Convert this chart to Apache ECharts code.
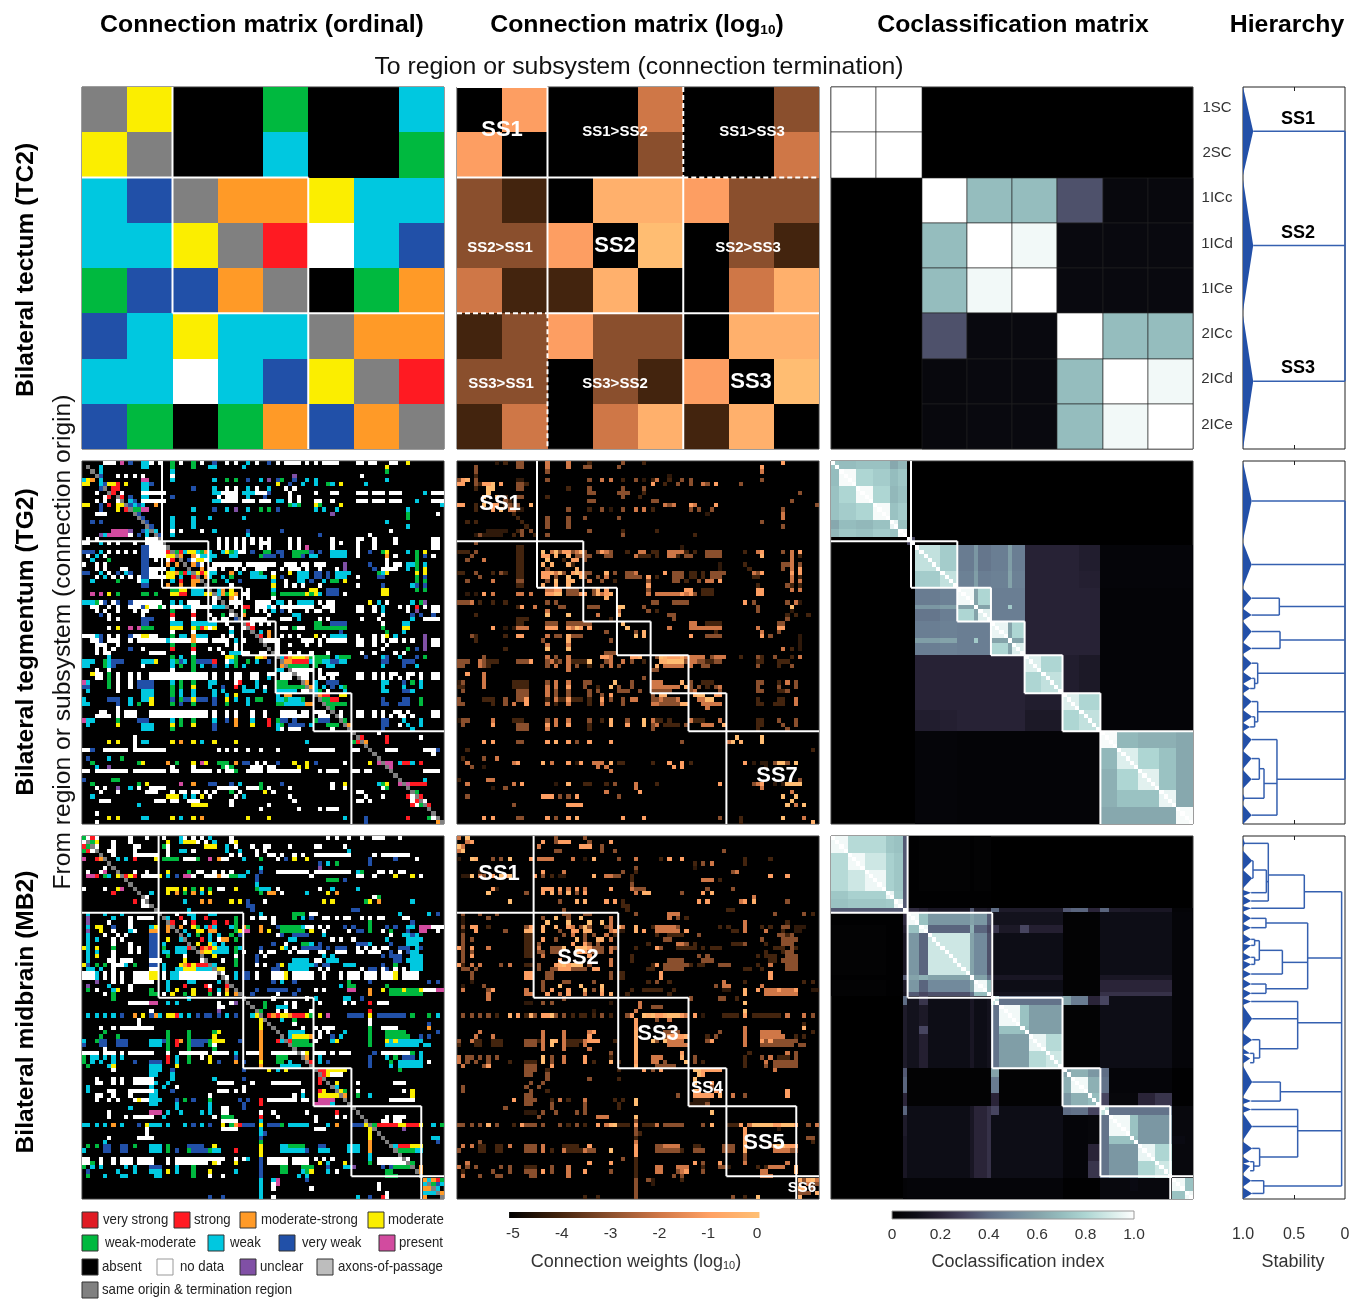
<!DOCTYPE html>
<html><head><meta charset="utf-8">
<script src="https://cdn.jsdelivr.net/npm/echarts@6/dist/echarts.min.js"></script>
<style>html,body{margin:0;padding:0;background:#fff}#c{width:1360px;height:1299px}</style>
</head><body><div id="c"></div>
<script>
// ---------- categories ----------
const tc2Regions = ['1SC','2SC','1ICc','1ICd','1ICe','2ICc','2ICd','2ICe'];
const ordinalCodes  = ['V','R','O','Y','G','C','B','P','W','U','X','A','K'];
const ordinalLabels = ['very strong','strong','moderate-strong','moderate','weak-moderate','weak','very weak','present','no data','unclear','axons-of-passage','same origin & termination region','absent'];
const ordinalColors = ['#e01b24','#ff1a22','#ff9a27','#fbee00','#00b93f','#00c8e0','#2150a8','#d24b9f','#ffffff','#8050a5','#bdbdbd','#808080','#000000'];
const logWeights = {V:-0.05,R:-0.1,O:-0.5,Y:-1.05,G:-2,C:-3,B:-4,P:-4.3,U:-4.3};
const logTicks = [-5,-4,-3,-2,-1,0];
const logColors = ['#000000','#43240e','#8a4f2d','#cf7747','#ffa063','#ffc074'];
const coTicks = [0,0.2,0.4,0.6,0.8,1];
const coColors = ['#000000','#0d0d16','#2a2438','#474560','#5f6d85','#728a9c','#84a3aa','#95bdbe','#aed6d3','#d5ebe8','#ffffff'];

// ---------- ordinal matrices, read row by row: "col[-col]Code" ----------
const tc2Rows = ['0A 1Y 4G 7C','0Y 1A 4C 7G','0C 1B 2A 3-4O 5Y 6-7C','0-1C 2Y 3A 4R 5W 6C 7B','0G 1-2B 3O 4A 6G 7O','0B 1C 2Y 3-4C 5A 6-7O','0-1C 2W 3C 4B 5Y 6A 7R','0B 1G 3G 4O 5B 6O 7A'];
const tg2Rows = [
"5-7W 9P 11B 14-15C 16W 18W 21G 23W 26G 28W 31B 34W 36W 39C 41W 44B 46W 48-51W 53W 55W 57-60W 65-66W 68-69W 73-74W 77Y",
"1A 4C 14-15C 21G 26G 30C 31C 38C 72Y",
"2A 4C 21C 72G",
"3A 4B 8W 10W 12W 14W 21W 50U 66W",
"0C 1Y 2O 4C 14-15P 21C 31C 34G 36G 39B 42C 44U 46B 47G 50B 53C 55C 72C",
"0-1Y 4C 5B 6-7Y 8R 10Y 14-15C 16B 46Y 49B 52C 55C 58G 59C 61Y 67C",
"4B 5A 7-8R 14-15C 26B 31C 34W 36W 39C 41W 44C 48W 50W",
"3W 6A 7R 9W 14-15W 16-19W 31-32C 33-36W 38-40C 41-43W 44B 49W 55W 59-60W 65-67W 69-71W 73-75W 81C 83-85W",
"5W 6R 8A 9R 11B 14-15C 21B 32W 34-36W 39C 43B 49W 51W",
"3W 5W 8W 9A 11C 12B 14-15W 16-19W 31-32C 33-36W 38-40W 42-44W 46-47C 49W 51W 55-56W 59W 65-67W 69-71W 73-75W 79C 83-85W",
"0-1Y 4B 6R 8-9Y 10A 11B 12C 13B 14C 17O 49G 50C 51G 55Y 56G 61Y 85C",
"4B 8Y 10R 11A 12-13G 14-15P 26C 31B 34C 36U 39C 42G 44G 46B 55C 57C 60C 77C",
"3-5W 12A 13B 59U 77G 84W",
"13A 14B 21C 26C 30C 38C 77G",
"2B 4B 14A 15B 21C 26C 72C",
"15A 16B 21C 26C 77C",
"7-10P 11U 14B 15C 16A 17C 21W 23W 28W 31C 39B 47B 73W",
"4U 5C 6-10P 11W 13B 15C 17A 18B 21C 39C 56B 68W",
"1W 3W 15-17W 18A 32W 34W 36W 38W 40W 42W 44W 49W 51W 59W 65-66W 69W 74W 83-84W",
"0-1W 4C 6W 8W 12W 15-18W 19A 32W 34W 36W 38W 40W 42-44W 49W 51W 59W 61W 65W 69W 74W 83-84W",
"14-15B 16-19W 20A 32W 34W 36W 38W 42W 44W 49W 51W 53P 59W 65W 69W 83-84W",
"0-2B 4C 6W 8W 10W 12W 14-15B 16-19W 20R 21A 22G 23R 24C 25-26Y 27C 28G 29O 30C 33C 34Y 35G 36C 37-38W 40B 43-44G 46-47B 50-53G 54B 56B 59-62C 65W 68B 71G 72Y 77C 79G 81Y",
"1W 3C 5W 14-15B 16-19W 20-21Y 22A 23O 26O 27W 28-30C 31C 35-36C 42G 43-45B 47B 50-51G 52B 54C 55C 59-62C 65W 72O 74W 79G 81B 83W",
"2C 6G 14-15B 17W 20W 21R 23A 25B 26W 27-28Y 29W 30C 72W 79G",
"0W 3W 5W 14-15B 20O 22O 24A 26O 27B 28W 31-37W 39-45W 48-50W 52-53W 55-57W 62U 68B 72W 74-75W 77-78C 79G 81C",
"3W 5W 9-10W 14-15B 16-19W 21C 25A 28O 30W 31W 33W 36W 38W 41-43W 47W 49-51W 53W 56W 60W 62U 69B 71-74W 77C 79G 81Y",
"0-1B 4C 6W 8B 10C 11B 14-15B 16-17W 20-21Y 22O 23G 24R 25C 26A 27Y 28R 29Y 30C 31C 35O 37C 40-41C 42G 45W 49Y 51-53C 55-56B 58B 60-63C 70G 71C 72Y 79Y 81Y",
"3W 5C 7W 9W 11W 13W 14-15B 16-19W 20-21Y 23C 26R 27A 29O 30C 33C 35G 40-43C 45Y 47B 51-53C 55-56B 58B 60-62C 65W 70-71B 79G 81B",
"2C 8G 13W 14-15C 21C 23R 26O 27O 28A 31G 34C 37B 45C 48W 51-52C 54B 57C 59-60G 62Y 79G 81G",
"14-15B 20O 23O 26O 29A 35W 45Y 48W 50W 52W 56W 65W 71B 78C 79B 81B",
"21-22G 23-24Y 26-28C 30A 32C 33O 35Y 39W 45C 54-55Y 58-60B 71-72Y 79G 81G",
"2P 4P 6Y 8G 14-15G 17G 21-22Y 23-24R 26-28C 29-30Y 31A 32C 33O 34G 35Y 36O 38-39W 45G 47-52G 53Y 54G 55Y 56C 58-60B 62W 71-72Y",
"31W 32A 35O 36W 39W 45W",
"0-2C 3G 4W 5B 7W 8B 11B 12-13W 14-18W 21C 23C 25-27W 31W 33A 35-37W 41-44W 46-47C 49W 51-54C 56W 58-59W 68Y 70C 72W 78C 80G 81U",
"2-3W 6W 8W 11-13W 14B 15Y 16-17W 18G 19W 21-23W 24-25C 26-28W 29-30W 31-33C 34A 36W 38-39R 41-43W 44C 45W 47-50W 51-54W 57-59W 65-66W 69W 71C 75W 77W 79R 81W 83-84W",
"3W 5W 8W 12W 14-15W 21G 26W 35A 38G 41W 43W 45C 47B 49W 53W 55-56W 59W 65-66W 69W 71C 77W 79U 83-84W",
"4B 6W 14W 21R 26R 30W 33G 35W 36A 38O 44W 50-51C 71W 78B 80B 83B",
"6W 8W 14-16B 21W 26W 31W 33-34W 36B 37A 40-43W 47-49W 51C 56W 58W 66W 70W 78C 81-82W 83-84W",
"14-15B 21-23C 26-31C 34W 38A 39R 40W 42W 44W 55-56G 59-62B 71W 76-77C",
"6W 8Y 11P 13P 14-16G 21-23Y 26Y 27G 28R 29Y 30W 31Y 35W 38W 39A 40R 47-48W 50G 51-52W 55-62G 71G 76-77Y",
"21W 26W 35C 40A 42C 44O 61B 72G 76C",
"0-2W 3C 4B 6W 8W 11B 12-13W 14-15Y 16-17W 21G 23-24C 26O 27-29C 33W 35W 41A 42R 44O 47W 49W 51W 55Y 57W 59-62C 65W 69W 71W 72Y 74C 81U",
"2-3W 4B 6-8W 11W 13-19W 20C 21-25W 26O 27-29W 31-34W 36C 38W 42A 43W 44-46W 52-54W 56W 58-62W 65-66W 69W 71W 73-74W 76W 78W 81U 83-84W",
"3-5W 8W 21G 26G 34W 36W 43A 46W 49W 53W 56W 65-66W 69W 72W 81U 83-84W",
"3W 5W 7W 11B 14W 21R 26R 30W 32W 36W 44A 46W 71W 77G 79B 81U",
"3W 5-6W 16-19W 26W 33W 35-37C 38-39W 42-43W 45A 46W 49W 51W 54W 58W 66W 69W 74W 76W",
"6C 21G 23C 26G 34-35Y 36G 41-42Y 43O 46A 47C 48R 49O 50-52Y 53O 54G 55-58G 60C 61-63G 67B 71C 72B 75C 79B 81G",
"0-2C 5G 6C 7-9B 14-17C 17Y 21C 22G 23B 24C 26G 27-30B 31R 34W 35C 36G 39G 41C 44B 47A 48-49O 50R 51-53R 54C 55-56G 57-58C 59-60B 61-62C 71-72B 76-78B",
"0-1C 5G 6C 7B 14W 21C 23G 26G 28C 31B 34C 36G 38C 47O 48A 49-53G 55G 58C 59C 71C 76B 79C",
"3W 6W 21W 26G 46-47C 49A 50-54W 56W",
"2Y 3-4W 6G 8W 11W 13W 16-29W 31W 34W 36-37W 40-41W 44-45W 47-49W 50A 51-53W 56W 58-60W 65-66W 69W 71W 73-74W 77-78W 80W 83-84W",
"3-4W 6G 8W 11W 13W 16-29W 31W 34W 36-37W 40-41W 44C 47-49W 51A 52-53W 56-57W 59W 65-66W 69W 71W 73W 75W 77W 80W 83-84W",
"0P 1C 6G 8W 11W 13-16B 21C 23G 26G 30-31C 36W 37R 41C 46-48G 52A 53O 55C 58-60B 71-72C 76B 78G 80C",
"0-1B 6G 8W 11W 13-16B 21G 23G 26Y 30C 33B 36R 38C 41C 43W 46-52G 53A 54O 55C 57C 59B 61C 62G 71C 76C 80C",
"1C 8W 14-16C 21G 23C 26C 31C 33C 38-40C 43C 46-50C 52-53W 54A 55C 56G 58W 62C 71-72C 76-77B 78C",
"14-16C 21G 23C 26C 31C 34C 36Y 46C 48-49O 55A 56O 57-58R 61-62Y",
"0C 6-8B 11C 14-15C 16Y 21B 23G 24-25B 26Y 27-29B 31B 34Y 36C 39C 41-42G 46-47C 48G 49-51C 52G 56A 57-58G 59-60R 71B 76-77B 80G",
"0-1C 8B 11C 13G 16Y 21G 23B 26G 31B 34G 39C 46-47G 48-52C 53-54O 57A 58-62G 71-72B 75-77B 80G",
"8W 58A 59G",
"4-5W 8W 10-12W 16-29W 31W 34W 36W 40W 43W 47-50W 52-53W 55-57W 59A 61W 65-66W 69W 71W 74-75W 77W 83-84W",
"3-6W 8W 10-12W 16-29W 31W 34W 36W 40W 43W 47-53W 56-58W 60A 61W 65-66W 69W 71W 73W 75-76W 78W 83-84W",
"0P 1-2C 8G 13-15B 21C 23G 26G 31C 34B 36O 40C 44R 46G 47-48B 50B 55G 56-58B 61A 62G 71-72B 76C 80C",
"1C 8Y 14-16C 21Y 23G 26Y 31B 36O 40Y 44R 46C 47G 49-52B 54C 58-60G 62A 63O 71-72B 75W 77C 80C",
"14-16C 21G 31B 46C 47W 49-51W 59W 63A 71B 78C",
"64A 70W",
"12W 65A 66R 72R 80W",
"6Y 8Y 12W 14-15C 21Y 23O 26Y 28C 31Y 36Y 53C 64G 65R 66A 67O 72R",
"12W 67A",
"0-1W 2B 5-10W 12-19W 32W 34W 36W 39W 42W 46W 54-59W 64-65W 68A 72-74W 81-83W 84B",
"69A 83W",
"1B 6C 9G 70A",
"2G 13G 14Y 20O 22G 26Y 28P 29Y 32-33G 34G 36O 38-39B 41W 43W 46B 50Y 53Y 55B 62W 68Y 70P 71A 72-73P 75C 76-77R 78C 80R",
"3C 6U 21W 26W 33G 34W 35G 40-42W 44-45W 51Y 53Y 72A 73P",
"0-1W 3-4W 5-10W 12-19W 21-22W 26-30W 32W 34-35W 36G 39-42W 44-51W 56W 58-60W 64-65W 67-68W 73A 81-84W",
"74A",
"0B 7-8G 75A 81C",
"2G 13G 15Y 23P 26O 30-31B 35B 37C 42G 47B 59W 62Y 70C 71G 72Y 75P 76A 77P 78-79R 80-81R",
"3W 5W 8U 11C 13W 16-19W 32-36W 39-41W 42G 44W 49W 59W 62W 71W 72G 77A",
"4W 8W 15-17W 21W 23-24W 26-27W 29W 31W 35G 37W 43Y 45W 65-66W 78A 79G",
"2C 20-22Y 24C 26C 28Y 30W 36W 38C 49W 67W 71W 77R 78W 79A 80R",
"4-6W 17-19W 21-22W 25-27W 35W 50W 65-66W 68W 78W 79R 80A 81W",
"13C 26-29Y 35W 44W 78R 79W 80G 81A 82R",
"42W 51W 56W 58W 59-60W 82A",
"3W 83A",
"6Y 8Y 14-15C 21Y 23C 26Y 28O 39Y 44Y 62C 67B 77R 82G 83W 84A",
"3W 67B 84O 85A"
];
const mb2Rows = [
"0G 1W 2R 3W 11W 15W 19W 23C 24W 26W 28W 30C 35W 58W 60W 63W 66W 69W 70-71W 75W",
"0W 1A 2G 3Y 7W 11W 20Y 23C 24-26Y 27W 29W 31C 35W 36Y",
"0R 1G 2A 3W 7W 12-13W 19G 20W 29-31Y 34C 36W 40W 43-44W 49W 55-56W 62W",
"0G 1R 2W 3A 6-7W 12W 20W 23-24C 26W 34C 37C 41W 43W 63C",
"4A 7W 12W 13-17W 20W 35W 37W 41W 44-45W 47W 50W 52W 55-63W 69W 71-77W",
"0P 3R 4O 5A 8C 10C 12R 17Y 19G 20-22G 24-26W 27G 30P 32O 33-34W 38C 42G 46W 48B 50Y 53Y 68B 74B 79W",
"6A 56B 58C 60G 68B",
"5W 7A 42C 56U",
"1W 4W 5P 8A 12W 15W 20Y 25G 27-28W 31W 33W 35W 39C 42B 46-52W 53W 55W 56-63W 65C 66G 70-71W 73W 75-76W",
"1P 2P 3R 5G 6C 8Y 9A 10R 11Y 12R 14-17W 18Y 20C 22B 24-25P 26W 29-31W 32O 33-35W 35-36G 37-38C 41B 54W 65-66W 69W 74Y 78Y 80W",
"10A 41B 58-60G 62B",
"11A 41C",
"0W 5W 8Y 9P 12A 20-22Y 24Y 26G 28Y 30G 32-33W 36Y 41G 42-44C 46W 56W 59C 65C",
"7R 13A 16C 20Y 22O 24G 26O 28C 30Y 42G 44-45O 47W 53C 58Y 60O",
"14A 15W 69W 70G",
"12R 14W 15A 24C 28O 30O 35Y 37Y 39B 43W 57Y 59Y 67G 68Y 70O 78C",
"14-15W 16A 39-40B",
"17A 25C 40B 64-65B",
"1C 5C 9C 18A 22W 25-26C 30-31C 42C 50-52G 54-55W 75C 82C 84B",
"1U 7C 11W 13-16W 19A 20C 23R 26C 29R 36G 40W 42-43W 45W 50G 52C 54B 57-58W 60W 62-63W 66W 68W 70-71W 76-77W",
"1U 6W 11W 20A 21R 24W 26R 31R 34R 36G 45W 68G 78B",
"1C 3Y 4Y 7B 11W 16C 17Y 20O 21A 23O 26Y 27G 29C 30R 31C 35C 36G 38O 39G 42O 46-47B 47-51G 52C 53-54W 56W 58W 62B 64B 68G 72B 74B 77-78C 80-82P 83-85W",
"1U 4Y 7W 11C 12W 16-17O 20O 22A 24C 27-28Y 30-31O 36G 37Y 38-39P 42O 44Y 47-52G 54Y 57W 63W 65-66B 68G 71W 73G 77B 80-81P 84W",
"1C 5W 8W 10W 16-17B 23A 25C 27G 30C 32C 35G 37B 46W 47B 50-53B 57C 73W 76-77C 78B 79C",
"1C 3C 7W 9W 16-17B 20Y 23C 24A 28R 30C 32W 33-34O 36G 49-50C 59W 61W 64W 72C 77-80C",
"1C 7W 11W 16-17B 19C 25A 27Y 30Y 31C 33C 45B 48W 52-53G 54C 56B 65-67B 68C 73B 77-79C",
"0Y 1C 3Y 7G 11W 13W 16-17B 19G 22C 23-24C 25R 26A 28R 29O 30R 31Y 32-34C 36G 37C 42B 47Y 48C 50W 52-55B 56B 58B 60-62B 65W 67W 69W 71-72W 75-77B 79C 80B",
"1C 3C 7W 11W 13W 16-17B 19C 20C 22-24C 27A 28O 29Y 30Y 31-34C 36G 38W 42W 44-45W 49W 51-53W 56-57W 60-62W 65-66W 68-70W 73B 75W 77B 78-79C",
"1C 3Y 7W 16-17B 20G 24W 28A 31Y 36W 41B 43W 57C 59C 71B 73-75B 78-80C",
"1C 6W 7W 9-11W 16-18W 24Y 28W 29A 33W 36G 41B 50-53C 55-56W 58-60C 74B 75B 77-80C",
"0Y 1B 3G 5G 7-9W 10C 12G 16-17B 19C 23Y 24O 25R 26Y 27-29R 30A 31C 36G 41W 43W 46B 47Y 49C 50-53C 54C 55B 57-58B 62-64C 71B 74G 78-80C",
"1-2C 4C 7W 16-17W 19C 22C 23-24C 24-26Y 27-30C 31A 32Y 33Y 45-46B 49-53C 56W 58W 66W 68-69B 71W 72B 74W 76W 78-80C",
"0-2W 3C 5W 7W 9W 12-15W 16-17Y 19W 21-22C 23-29W 30-31W 32A 33W 36C 38-39B 41W 45-47W 48Y 50-54W 57W 61W 63-65W 67-69W 71-73W 74Y 76-79W",
"0-2W 3C 5W 7W 9W 12-15W 16-17Y 19W 21-22C 23-29W 30-31W 33A 34W 36C 38-39B 41W 45-47W 48Y 50-54W 57W 61W 63-65W 67-69W 71-73W 74Y 76-79W",
"3U 7W 9W 12-16W 20C 25-26C 32C 34A 45B 47C 50B 63G 68B 82B 84B",
"1U 6C 11W 20C 24R 29R 30W 34R 35A 61C 63-64G 72G",
"1G 3W 7C 8Y 11W 16G 20C 22Y 26Y 30R 32C 34O 36A 41B 44-48B 51B 55W 57W 63-64P 68O 71Y 73-75G 76Y 77-79G 80Y 81-83W 84-85P",
"5W 7G 16-17G 19W 21Y 24G 26Y 30G 32W 34Y 36O 37A 40B 46W 50B 68O 73-80G",
"7G 25C 38A 45W 53W 55C 62-63C 66B",
"11-15W 16-17P 20C 22C 32W 35W 36U 39A 43G 48W 50W 56W 62W 64W 68R 70-72W",
"32-33W 40A 43G 46-48C 50W",
"16W 32U 41A 42G 46W 48W 54W 68R",
"1C 3C 5C 7C 9B 12O 14Y 16B 17O 18C 20-21Y 22R 23C 25C 27B 29B 30B 32B 34C 36B 40C 41Y 42A 44R 45O 46R 47-48Y 49O 50-52R 53Y 54G 56Y 58P 63-66B 68Y 70-76B 78G 82G 84C",
"13W 42Y 43A 47C 50G 68W",
"13W 42Y 44A 50W 68W 82B",
"4W 7W 9-10W 11-16W 42Y 45A 52W 55W 57W 58-59W 68G 71-74W 82O",
"5G 20G 25G 31G 32Y 42O 46A 49-52C 56W 58W 62C 68G 72-76G 84B",
"4G 8G 20G 25G 31Y 42O 47A 49C 50-53Y 54O 56W 59B 61C 68G 72-77G 80B 82B",
"0C 3G 4-5B 8-10B 16-18C 19-20B 20G 22R 23O 25G 26-29B 30G 31-33Y 37B 42O 46R 47C 48A 49R 50-53G 55W 59C 60Y 68G 72Y 73C 74Y 75C 76-80C",
"0B 4-5B 8-10B 16-18C 20G 22R 25G 26-28B 30G 31W 42O 49A 50-54G 68G 72-79C 81-82C",
"5W 20G 25G 31G 42O 50A",
"0-3W 5-6W 7W 9W 11-12W 13-16W 20W 23-29W 31-34W 36C 39-41W 42O 45-50W 51A 52W 53Y 55-57W 59W 61-63W 69B 71-74W 75-77W 78G 80C",
"0G 2C 3C 5C 7C 9C 20R 22C 25G 28W 30Y 36B 42O 46-48G 52A 53O 56C 68B 72C 74G 76-78B 80C",
"0G 2C 4C 7C 12B 16-18B 20R 22C 25G 30Y 32B 36O 38B 42Y 46-47G 49C 53A 54R 56C 58B 68B 73G 75-77C 78-80C 82W",
"1G 6C 7Y 16-18C 22Y 42O 47-51C 54A 68B 73C 75-80C",
"7W 16-18C 21B 38B 44Y 46C 48Y 55A 56-57R 58Y 59-62Y 75G",
"16-17C 21C 56A 57R 58Y 59-61W",
"3W 7W 9W 12-16W 21C 31C 38B 56R 57A",
"3-4W 7W 9W 12-16W 17C 20C 32-35W 40W 45-47W 48-50W 51W 56R 58A 60Y 65W 74-76W",
"1C 16C 19C 22W 38W 59A 60C",
"1C 6-7W 11-16W 17C 21B 32-34W 36W 38W 52W 56R 57Y 60A 61Y 62G 65W 76W 78Y",
"3-4W 7W 11W 16-17C 30W 50W 52C 56Y 57-60Y 61A 62O 65G 68C 78Y",
"3W 6W 8W 12W 13Y 14W 15-16W 16-18C 22B 24G 26B 30G 37B 39B 42R 44-46W 47-50W 52-53W 56-59P 62A 73-78W",
"16-17C 22C 30C 38B 42R 55-58P 59C 63A",
"11C 22C 30C 33-34W 38B 64A",
"6W 16-18P 20C 23C 28C 30C 33-34W 42W 45W 53W 60R 65A",
"6W 10W 12-16W 19C 31W 33-35G 42R 46W 55W 60W 62W 66A 72W 74-76W",
"33-36W 42C 55W 67A 71-72W 74-75W",
"0-1C 3C 5C 7O 9C 13B 15Y 16-18C 20C 24C 26B 28C 30B 33Y 35G 36O 37R 38-40B 42Y 44-46B 47G 49-53C 58C 60O 64-66B 67Y 68A 69G 70-74R 75-76Y 77-79R 80Y 83C 85G",
"15W 33-36W 42C 55W 56-57W 68Y 69A 76U",
"15W 42C 43B 68Y 70A",
"6W 13-16W 42B 68Y 71A 83-84C",
"5C 42G 68O 72A 84B",
"1G 3G 5-6B 9-10B 12G 16-18C 20G 25-28B 31Y 42Y 47-48C 49-52G 56-57B 63-65C 68O 73A 74C 75-77R 78-80Y",
"0C 5-6B 9-10B 16-18C 20G 22B 25G 26-29B 30G 31-32C 36R 42Y 47-52C 53B 56-58C 63-65C 68O 74A 75-78G 79-80C",
"42Y 68C 75A",
"0-1W 4W 7W 9-10W 11W 13-16W 20W 22-29W 30-33W 36W 38W 39C 42B 44-48W 50-53W 55W 57W 59W 68C 70-75W 76A 77W",
"0-1W 2G 4W 7W 9-10W 11W 13-16W 20W 22-29W 31Y 32W 36Y 42B 44-48W 50-53W 56Y 58C 62Y 68G 70-76W 77A 78G",
"0G 2C 4C 10C 12C 16-18B 22C 26G 42B 47-48G 52-54G 58B 62C 63C 64U 71B 73B 74G 75-77G 78A 80O",
"1B 8C 12C 16-18C 20Y 22C 26G 30Y 36C 42B 47-48G 52C 53G 54Y 58C 60W 72G 73G 79A 80O",
"1G 5C 9-10C 17-18C 26G 30W 33W 42B 51C 53C 72-74G 80A",
"42C 45C 46P 53B 81O 82C 83O 84R 85G",
"42C 45W 46P 70W 81C 82A 83G 84B 85C",
"42C 45W 54W 70W 81-82O 83A 84C",
"42C 72W 81C 82-83C 84A 85O",
"30B 33B 42C 45W 65C 68B 71R 72W 81O 85A"
];

// ---------- coclassification, block edges and upper-triangle percentages ----------
const tc2CoEdges = [0,1,2,3,4,5,6,7,8];
const tc2CoBlocks = [
 [100,100,0,0,0,0,0,0],[100,0,0,0,0,0,0],[100,70,70,33,6,6],[100,97,7,7,7],[100,7,7,7],[100,70,70],[100,97],[100]
];
const tg2CoEdges = [0,2,6,10,14,16,18,20,26,30,34,35,38,42,43,46,50,55,59,64,68,73,78,82,86];
const tg2CoBlocks = [
 [72,70,72,72,62,68,0,0,0,0,0,0,0,0,0,0,0,0,0,0,0,0,0,0],
 [98,80,76,70,74,0,0,0,0,0,0,0,0,0,0,0,0,0,0,0,0,0,0],
 [98,80,68,72,0,0,0,0,0,0,0,0,0,0,0,0,0,0,0,0,0,0],
 [98,72,76,0,0,0,0,0,0,0,0,0,0,0,0,0,0,0,0,0,0],
 [95,72,0,0,0,0,0,0,0,0,0,0,0,0,0,0,0,0,0,0],
 [98,0,0,0,0,0,0,0,0,0,0,0,0,0,0,0,0,0,0],
 [30,0,0,0,0,0,0,0,0,0,0,0,0,0,0,0,0,0],
 [85,76,45,55,43,46,58,46,19,19,19,17,4,4,4,4,4],
 [85,47,58,46,47,60,47,19,19,19,18,4,4,4,4,4],
 [97,60,80,46,46,46,19,19,19,19,3,3,3,3,3],
 [60,60,46,75,46,19,19,19,19,3,3,3,3,3],
 [93,46,46,46,19,19,19,19,3,3,3,3,3],
 [95,60,80,19,19,19,19,3,3,3,3,3],
 [55,60,19,19,19,19,3,3,3,3,3],
 [92,19,19,19,19,3,3,3,3,3],
 [92,80,17,15,3,3,3,3,3],
 [85,17,15,3,3,3,3,3],
 [92,80,3,3,3,3,3],
 [85,3,3,3,3,3],
 [98,68,65,65,62],
 [92,80,72,62],
 [93,72,62],
 [95,62],
 [98]
];
const mb2CoEdges = [0,4,8,13,15,17,18,21,23,33,34,37,38,40,45,47,51,55,57,61,64,66,71,73,77,81,84,86];
const mb2CoBlocks = [
 [97,82,82,74,72,35,1,2,2,1,2,2,0,0,0,0,0,0,0,0,0,0,0,0,0,0,0],
 [97,88,78,74,35,1,2,2,1,2,2,0,0,0,0,0,0,0,0,0,0,0,0,0,0,0],
 [96,78,74,35,1,2,2,1,2,2,0,0,0,0,0,0,0,0,0,0,0,0,0,0,0],
 [95,75,35,1,1,1,1,1,1,0,0,0,0,0,0,0,0,0,0,0,0,0,0,0],
 [96,35,1,1,1,1,1,1,0,0,0,0,0,0,0,0,0,0,0,0,0,0,0],
 [90,22,18,14,35,16,14,40,16,16,16,16,35,38,20,38,16,14,14,14,3,3],
 [97,72,55,60,55,35,12,12,12,12,12,2,2,2,10,10,10,10,10,4,4],
 [96,38,65,38,30,25,15,30,18,18,2,2,2,10,10,10,10,10,4,4],
 [88,60,50,33,10,10,10,10,10,2,2,2,10,10,10,10,10,4,4],
 [90,60,40,14,14,14,14,14,2,2,2,14,14,14,14,14,4,4],
 [97,70,10,10,10,10,10,2,2,2,20,20,20,20,20,4,4],
 [90,12,12,12,12,12,2,2,2,24,24,24,24,24,4,4],
 [85,42,42,42,42,60,45,20,30,10,10,10,10,4,4],
 [97,72,58,58,2,2,2,10,10,10,10,10,4,4],
 [70,58,58,2,2,2,10,10,10,10,10,4,4],
 [95,82,2,2,2,10,10,10,10,10,4,4],
 [88,2,2,2,10,10,10,10,10,4,4],
 [60,65,55,40,4,4,4,4,1,1],
 [97,65,42,4,4,4,4,1,1],
 [70,30,5,5,20,25,1,1],
 [85,42,42,42,42,6,6],
 [97,72,55,55,6,6],
 [70,55,55,8,6],
 [95,80,6,6],
 [88,6,6],
 [97,72],
 [97]
];

// ---------- subsystem edges ----------
const tc2Subsystems = [0,2,5,8];
const tg2Subsystems = [0,19,30,38,46,55,64,86];
const mb2Subsystems = [0,18.2,38.3,55,64,80.6,86];

// ---------- dendrograms: triangles [start, apex row, end, apex stability]; merges [stability, row, from, row, from, ...] ----------
const tc2Tri = [[0,0.98,1.95,.9],[2.05,3.5,4.95,.9],[5.05,6.5,8,.9]];
const tc2Merges = [[0,0.98,.9,3.5,.9,6.5,.9]];
const tg2Tri = [[0.3,9.5,18.7,.915],[19.3,24.5,29.8,.915],[30.2,32.5,35,.915],[35,36.5,37.8,.915],[38,40.4,43,.915],[43,44.4,45.7,.915],[46,47.9,50,.915],[50,51.5,52.8,.91],[52.8,53.9,55,.93],[55.3,57,59,.915],[59,60.6,62,.91],[62,63,64,.93],[64.2,66,68.7,.915],[68.7,70.5,72.9,.915],[73.2,75.4,77.6,.915],[78.9,79.9,80.7,.98],[81.5,83.9,86,.915]];
const tg2Merges = [[.644,32.5,.915,36.5,.915],[.637,40.4,.915,44.4,.915],[.886,51.5,.91,53.9,.93],[.856,47.9,.915,52.7,.886],[.886,60.6,.91,63,.93],[.856,57,.915,61.8,.886],[.84,70.5,.915,75.4,.915],[.794,72.9,.84,79.9,.98],[.667,66,.915,76.4,.794,83.9,.915],[0,9.5,.915,24.5,.915,34.5,.644,42.4,.637,50.3,.856,59.4,.856,75.4,.667]];
const mb2Tri = [[.55,1.74,2.69,.98],[3.48,5.85,8.06,.91],[8.06,10.03,12.4,.91],[12.8,13.43,14.22,.92],[14.22,15.4,16.35,.92],[16.59,17.14,17.93,.92],[18.33,19.51,20.7,.92],[20.85,21.72,22.67,.92],[23.22,24.49,25.59,.92],[25.59,25.91,27.41,.92],[27.65,28.75,29.54,.92],[29.54,30.41,31.6,.92],[31.75,32.7,33.73,.92],[33.96,35.07,36.1,.92],[36.33,37.28,38.47,.92],[38.47,39.18,40.05,.92],[40.28,43.29,46.37,.91],[46.76,48.34,49.92,.91],[50.32,51.5,51.66,.93],[51.66,52.69,53.87,.93],[54.5,58.29,61.77,.91],[62,62.8,63.5,.92],[63.98,64.77,65.56,.92],[65.72,68.8,72.04,.91],[72.43,74.01,75.59,.91],[75.99,77.17,77.6,.93],[77.6,78.2,79.94,.93],[80.33,81.67,83.1,.92],[83.25,84.68,86,.91]];
const mb2Merges = [[.902,5.85,.91,10.03,.91],[.771,8.06,.902,13.43,.92],[.752,1.74,.98,10.82,.771,15.4,.92],[.399,9.24,.752,17.14,.92],
 [.775,19.51,.92,21.72,.92],[.886,24.49,.92,25.91,.92],[.886,28.75,.92,30.41,.92],[.84,24.8,.886,29.38,.886],[.614,27.09,.84,32.7,.92],[.775,35.07,.92,37.28,.92],[.366,20.62,.775,29.94,.614,36.18,.775],
 [.895,51.5,.93,53.71,.93],[.837,48.26,.91,52.6,.895],[.464,39.18,.92,43.29,.91,50.39,.837],
 [.634,58.29,.91,62.8,.92],
 [.895,77.17,.93,79.3,.93],[.837,74.01,.91,78.2,.895],[.464,64.77,.92,68.8,.91,76.07,.837],
 [.797,81.67,.92,84.68,.91],
 [.033,13.19,.399,28.91,.366,44.23,.464,60.6,.634,69.83,.464,82.94,.797]];

// ---------- layout ----------
const colX = [[82,362],[457,362],[831,362],[1243,102]];
const rowY = [[87,362],[461,363],[836,363]];
const font = 'Liberation Sans';

function parseRows(rows){
  const cells = new Map();
  rows.forEach((row,r)=>{
    (row.match(/\d+(?:-\d+)?[A-Z]/g)||[]).forEach(tok=>{
      const m = tok.match(/(\d+)(?:-(\d+))?([A-Z])/);
      const a=+m[1], b=m[2]?+m[2]:a;
      for(let c=a;c<=b;c++) cells.set(r+','+c,m[3]);
    });
  });
  return cells;
}
function ordData(rows){
  const out=[]; parseRows(rows).forEach((code,k)=>{const [r,c]=k.split(',').map(Number); out.push([c,r,ordinalCodes.indexOf(code)]);}); return out;
}
function logData(rows){
  const out=[]; parseRows(rows).forEach((code,k)=>{const [r,c]=k.split(',').map(Number); if(code in logWeights) out.push([c,r,logWeights[code]]);}); return out;
}
function coData(edges,blocks,n,diag){
  const idx=i=>{for(let b=0;b<edges.length-1;b++) if(i>=edges[b]&&i<edges[b+1]) return b; return edges.length-2;};
  const get=(a,b)=>a<=b?blocks[a][b-a]:blocks[b][a-b];
  const out=[];
  for(let r=0;r<n;r++)for(let c=0;c<n;c++){
    let v=get(idx(r),idx(c))/100;
    if(diag&&r===c) v=1;
    if(v>0) out.push([c,r,v]);
  }
  return out;
}
const grids=[],xAxes=[],yAxes=[],series=[];
const ordIdx=[],logIdx=[],coIdx=[];
function addMatrixGrid(c,r,n,rightLabels){
  const g=grids.length;
  grids.push({left:colX[c][0],top:rowY[r][0],width:colX[c][1],height:rowY[r][1],show:true,backgroundColor:'#000',borderColor:'#3a3a3a',borderWidth:1});
  const cats=Array.from({length:n},(_,i)=>rightLabels?rightLabels[i]:String(i));
  xAxes.push({gridIndex:g,type:'category',data:cats,show:false});
  yAxes.push({gridIndex:g,type:'category',data:cats,inverse:true,show:!!rightLabels,position:'right',axisLine:{show:false},axisTick:{show:false},
    axisLabel:{show:!!rightLabels,align:'center',margin:24,interval:0,formatter:'{a|{value}}',
      rich:{a:{fontFamily:font,fontSize:15,color:'#333',padding:[0,0,4,0]}}}});
  return xAxes.length-1;
}
function addCells(ax,data,list,stroke){
  list.push(series.length);
  series.push({type:'custom',xAxisIndex:ax,yAxisIndex:ax,data,clip:false,silent:true,animation:false,progressive:0,encode:{x:0,y:1},
    renderItem(p,api){
      const c=api.coord([api.value(0),api.value(1)]),s=api.size([1,1]);
      const x0=Math.round(c[0]-s[0]/2),x1=Math.round(c[0]+s[0]/2),y0=Math.round(c[1]-s[1]/2),y1=Math.round(c[1]+s[1]/2);
      return {type:'rect',shape:{x:x0,y:y0,width:x1-x0,height:y1-y0},style:{fill:api.visual('color'),stroke:stroke||null,lineWidth:stroke?.6:0}};
    }});
}
// segments: [col0,row0,col1,row1,dashed]
function addSegments(ax,segs){
  series.push({type:'custom',xAxisIndex:ax,yAxisIndex:ax,clip:false,silent:true,z:5,progressive:0,data:segs.map(()=>[0,0]),
    renderItem(params,api){
      const s=segs[params.dataIndex];
      const p0=api.coord([0,0]),p1=api.coord([1,1]);
      const dx=p1[0]-p0[0],dy=p1[1]-p0[1];
      const X=v=>p0[0]+(v-.5)*dx,Y=v=>p0[1]+(v-.5)*dy;
      return {type:'line',shape:{x1:X(s[0]),y1:Y(s[1]),x2:X(s[2]),y2:Y(s[3])},
        style:{stroke:'#fff',lineWidth:2,lineDash:s[4]?[5,3]:null,fill:null}};
    }});
}
function ssSegments(e){
  const segs=[];
  for(let i=0;i<e.length-1;i++){
    const a=e[i],b=e[i+1];
    if(i>0){segs.push([a,a,b,a]);segs.push([a,a,a,b]);}
    if(i<e.length-2){segs.push([b,a,b,b]);segs.push([a,b,b,b]);}
  }
  return segs;
}
function addDendro(r,units,tris,merges,showLabels){
  const g=grids.length;
  grids.push({left:colX[3][0],top:rowY[r][0],width:colX[3][1],height:rowY[r][1],show:true,backgroundColor:'#fff',borderColor:'#222',borderWidth:1});
  const xBase={gridIndex:g,type:'value',min:0,max:1,interval:.5,inverse:true,axisLine:{show:false,onZero:false},splitLine:{show:false},
    axisTick:{show:true,inside:true,length:4,customValues:[.5],lineStyle:{color:'#222'}}};
  const bottom=xAxes.length;
  xAxes.push(Object.assign({},xBase,{position:'bottom',axisLabel:{show:showLabels,fontFamily:font,fontSize:16,color:'#333',margin:28,hideOverlap:false,
      formatter:v=>v===1?'1.0':String(v)}}));
  xAxes.push(Object.assign({},xBase,{position:'top',axisLabel:{show:false}}));
  yAxes.push({gridIndex:g,type:'value',min:0,max:units,inverse:true,show:false});
  const yi=yAxes.length-1;
  series.push({type:'custom',xAxisIndex:bottom,yAxisIndex:yi,clip:false,silent:true,progressive:0,data:tris.map(()=>[1,0]),
    renderItem(p,api){const t=tris[p.dataIndex];
      return {type:'polygon',shape:{points:[api.coord([1,t[0]]),api.coord([t[3],t[1]]),api.coord([1,t[2]])]},style:{fill:'#2350a8'}};}});
  series.push({type:'custom',xAxisIndex:bottom,yAxisIndex:yi,clip:false,silent:true,progressive:0,data:merges.map(()=>[0,0]),
    renderItem(p,api){const m=merges[p.dataIndex];const s=m[0];const kids=[];
      for(let i=1;i<m.length;i+=2) kids.push([m[i],m[i+1]]);
      const children=kids.map(k=>({type:'line',shape:{x1:api.coord([k[1],k[0]])[0],y1:api.coord([k[1],k[0]])[1],x2:api.coord([s,k[0]])[0],y2:api.coord([s,k[0]])[1]},style:{stroke:'#3560b0',lineWidth:1.5,fill:null}}));
      const ys=kids.map(k=>k[0]);
      const a=api.coord([s,Math.min(...ys)]),b=api.coord([s,Math.max(...ys)]);
      children.push({type:'line',shape:{x1:a[0],y1:a[1],x2:b[0],y2:b[1]},style:{stroke:'#3560b0',lineWidth:1.5,fill:null}});
      return {type:'group',children};}});
}
function addBar(left,top,width,height,min,max,barMin,barMax,ticks,colors,fmt,border){
  const g=grids.length;
  grids.push({left,top,width,height,show:false});
  xAxes.push({gridIndex:g,type:'value',min,max,interval:ticks[1]-ticks[0],axisLine:{show:false,onZero:false},axisTick:{show:false},splitLine:{show:false},
    axisLabel:{fontFamily:font,fontSize:15.5,color:'#333',margin:8,formatter:fmt,hideOverlap:false}});
  yAxes.push({gridIndex:g,type:'value',min:0,max:1,show:false});
  const ax=xAxes.length-1;
  series.push({type:'custom',xAxisIndex:ax,yAxisIndex:yAxes.length-1,clip:false,silent:true,progressive:0,data:[[min,0]],
    renderItem(p,api){const a=api.coord([barMin,1]),b=api.coord([barMax,0]);
      return {type:'rect',shape:{x:a[0],y:a[1],width:b[0]-a[0],height:b[1]-a[1]},
        style:{fill:new echarts.graphic.LinearGradient(0,0,1,0,colors.map((c,i)=>({offset:i/(colors.length-1),color:c}))),stroke:border,lineWidth:border?1:0}};}});
}

// ---------- matrices ----------
const allOrd=[tc2Rows,tg2Rows,mb2Rows];
const allN=[8,86,86];
const allSS=[tc2Subsystems,tg2Subsystems,mb2Subsystems];
const allCo=[[tc2CoEdges,tc2CoBlocks],[tg2CoEdges,tg2CoBlocks],[mb2CoEdges,mb2CoBlocks]];
const tc2LogSegs=[[0,0,2,0],[2,0,2,2],[0,2,2,2],[2,2,5,2],[5,2,5,5],[2,5,5,5],[2,2,2,5],[5,5,8,5],[5,5,5,8],
  [5,0,5,2,1],[5,2,8,2,1],[0,5,2,5,1],[2,5,2,8,1]];
[0,1,2].forEach(r=>{
  const n=allN[r];
  let ax=addMatrixGrid(0,r,n);
  addCells(ax,ordData(allOrd[r]),ordIdx);
  addSegments(ax,ssSegments(allSS[r]));
  ax=addMatrixGrid(1,r,n);
  addCells(ax,logData(allOrd[r]),logIdx);
  addSegments(ax,r===0?tc2LogSegs:ssSegments(allSS[r]));
  ax=addMatrixGrid(2,r,n,r===0?tc2Regions:null);
  addCells(ax,coData(allCo[r][0],allCo[r][1],n,r>0),coIdx,r===0?'#222':null);
  if(r>0) addSegments(ax,ssSegments(allSS[r]));
});
addDendro(0,8,tc2Tri,tc2Merges,false);
addDendro(1,86,tg2Tri,tg2Merges,false);
addDendro(2,86,mb2Tri,mb2Merges,true);
addBar(513,1212,244,6,-5,0,-5.08,0.05,logTicks,logColors,v=>String(v),null);
addBar(892,1211,242,8,0,1,0,1.0,coTicks,coColors,v=>v===1?'1.0':String(v),'#999');

// ---------- text and legend ----------
const txt=(x,y,text,o)=>Object.assign({type:'text',x:o.rot?x+2:x,y:o.rot?y:y+(o.dy==null?2:o.dy),silent:true,z:20,style:{text,fontFamily:font,fontSize:o.size||18,fontWeight:o.bold?'bold':'normal',fill:o.color||'#111',textAlign:o.align||'center',textVerticalAlign:'middle',rich:o.rich}},o.rot?{rotation:o.rot}:{},o.sx?{scaleX:o.sx}:{});
const gfx=[];
const subRich=(size,color)=>({b:{fontFamily:font,fontSize:size,fontWeight:'bold',fill:color},s:{fontFamily:font,fontSize:size*.55,fontWeight:'bold',fill:color,verticalAlign:'bottom',padding:[8,0,0,0]}});
gfx.push(txt(262,23,'Connection matrix (ordinal)',{size:24.8,bold:true,color:'#000'}));
gfx.push(txt(637,23,'{b|Connection matrix (log}{s|10}{b|)}',{size:24.8,bold:true,rich:subRich(24.8,'#000')}));
gfx.push(txt(1013,23,'Coclassification matrix',{size:24.8,bold:true,color:'#000'}));
gfx.push(txt(1287,23,'Hierarchy',{size:24.8,bold:true,color:'#000'}));
gfx.push(txt(639,65,'To region or subsystem (connection termination)',{size:24.8,color:'#111'}));
gfx.push(txt(24,270,'Bilateral tectum (TC2)',{size:24.6,bold:true,color:'#000',rot:Math.PI/2}));
gfx.push(txt(24,642,'Bilateral tegmentum (TG2)',{size:24.6,bold:true,color:'#000',rot:Math.PI/2}));
gfx.push(txt(24,1012,'Bilateral midbrain (MB2)',{size:24.6,bold:true,color:'#000',rot:Math.PI/2}));
gfx.push(txt(61,642,'From region or subsystem (connection origin)',{size:24.6,color:'#111',rot:Math.PI/2}));
const w='#ffffff';
[['SS1',502,129,22],['SS1>SS2',615,131,15],['SS1>SS3',752,131,15],['SS2>SS1',500,247,15],['SS2',615,245,22],['SS2>SS3',748,247,15],['SS3>SS1',501,383,15],['SS3>SS2',615,383,15],['SS3',751,381,22],
 ['SS1',500,503,22],['SS7',777,775,22],
 ['SS1',499,873,22],['SS2',578,957,22],['SS3',658,1033,22],['SS4',707,1087,17],['SS5',764,1142,22],['SS6',802,1187,15]].forEach(a=>gfx.push(txt(a[1],a[2],a[0],{size:a[3],bold:true,color:w,dy:1})));
[['SS1',1298,119],['SS2',1298,233],['SS3',1298,368]].forEach(a=>gfx.push(txt(a[1],a[2],a[0],{size:18,bold:true,color:'#000',dy:0})));
gfx.push(txt(636,1261,'{n|Connection weights (log}{s|10}{n|)}',{dy:1,rich:{n:{fontFamily:font,fontSize:18,fill:'#333'},s:{fontFamily:font,fontSize:11,fill:'#333',verticalAlign:'bottom',padding:[6,0,0,0]}}}));
gfx.push(txt(1018,1261,'Coclassification index',{size:18,color:'#333',dy:1}));
gfx.push(txt(1293,1261,'Stability',{size:18,color:'#333',dy:1}));
const legendSlots={V:[82,1220,103],R:[174,1220,194],O:[240,1220,261],Y:[368,1220,388],G:[82,1243,105],C:[208,1243,230],B:[279,1243,302],P:[379,1243,399],K:[82,1267,102],W:[157,1267,180],U:[240,1267,260],X:[317,1267,338],A:[82,1290,102]};
ordinalCodes.forEach((code,i)=>{
  const s=legendSlots[code];
  gfx.push({type:'rect',x:s[0],y:s[1]-8,silent:true,shape:{width:16,height:16},style:{fill:ordinalColors[i],stroke:code==='W'?'#999':'#333',lineWidth:1}});
  gfx.push(txt(s[2],s[1],ordinalLabels[i],{size:15,align:'left',color:'#222',sx:.88,dy:0}));
});

// ---------- chart ----------
const chart=echarts.init(document.getElementById('c'),null,{width:1360,height:1299});
chart.setOption({
  animation:false,backgroundColor:'#fff',grid:grids,xAxis:xAxes,yAxis:yAxes,
  visualMap:[
    {type:'piecewise',show:false,seriesIndex:ordIdx,dimension:2,pieces:ordinalColors.map((c,i)=>({value:i,color:c}))},
    {type:'continuous',show:false,seriesIndex:logIdx,dimension:2,min:logTicks[0],max:logTicks[logTicks.length-1],inRange:{color:logColors}},
    {type:'continuous',show:false,seriesIndex:coIdx,dimension:2,min:0,max:1,inRange:{color:coColors}}
  ],
  series,graphic:gfx
});
</script></body></html>
